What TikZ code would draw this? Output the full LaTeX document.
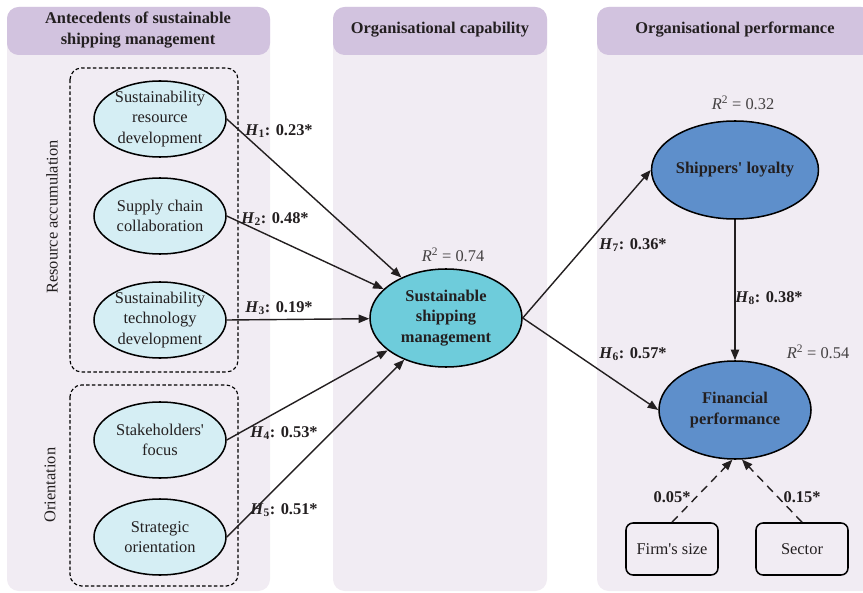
\documentclass[tikz,border=0pt]{standalone}
\usepackage{fontspec}
\setmainfont{Liberation Serif}
\usetikzlibrary{shapes,arrows.meta,positioning}
\definecolor{headcol}{HTML}{D2C3DF}
\definecolor{panelcol}{HTML}{F1ECF3}
\definecolor{lightcol}{HTML}{D5EEF4}
\definecolor{tealcol}{HTML}{6ECCDB}
\definecolor{bluecol}{HTML}{5E8FCB}
\definecolor{inkcol}{HTML}{231F20}
\tikzset{
	panel/.style={rounded corners=10pt, fill=panelcol},
	header/.style={rounded corners=10pt, fill=headcol},
	headtext/.style={font=\bfseries, align=center, text=inkcol},
	factor/.style={ellipse, draw, fill=lightcol, line width=1.3pt, inner xsep=0pt, inner ysep=-12pt, minimum width=3.96cm, minimum height=2.28cm, align=center, text=inkcol},
	core/.style={factor, fill=tealcol, minimum width=4.56cm, minimum height=2.94cm, font=\bfseries},
	outcome/.style={core, fill=bluecol},
	ctrl/.style={draw, rounded corners=6pt, line width=1.3pt, minimum width=2.76cm, minimum height=1.56cm, text=inkcol},
	group/.style={rounded corners=10pt, densely dashed, line width=1pt},
	hlabel/.style={font=\bfseries, text=inkcol},
	rlabel/.style={text=inkcol!85},
	diredge/.style={->,>={Triangle[width=7pt,length=9pt]}, line width=1.2pt, color=inkcol},
	ctrledge/.style={diredge, dash pattern=on 7pt off 5pt}
}

\begin{document}
\begin{tikzpicture}[line width=1pt, x=.03cm, y=-.03cm]
\fontsize{14pt}{17.5pt}\selectfont
\useasboundingbox (0,0) rectangle (863,593);

% panels
\fill[panel] (7,7) rectangle (270,591);
\fill[header] (7,7) rectangle (270,55);
\fill[panel] (333,7) rectangle (547,591);
\fill[header] (333,7) rectangle (547,55);
\fill[panel] (597,7) rectangle (873,591);
\fill[header] (597,7) rectangle (873,55);

\node[headtext] (T1) at (138,30) {Antecedents of sustainable\\shipping management};
\node[headtext] (T2) at (440,30) {Organisational capability};
\node[headtext] (T3) at (735,30) {Organisational performance};

\draw[group] (70,68) rectangle (238,372);
\draw[group] (70,385) rectangle (238,586);
\node[rotate=90, text=inkcol] (RA) at (52,217) {Resource accumulation};
\node[rotate=90, text=inkcol] (OR) at (50,485) {Orientation};

    \node[factor] (A1) at (160,119) {Sustainability\\resource\\development};
    \node[factor] (A2) at (160,216) {Supply chain\\collaboration};
    \node[factor] (A3) at (160,320) {Sustainability\\technology\\development};
    \node[factor] (A4) at (160,440) {Stakeholders\textquotesingle\\focus};
    \node[factor] (A5) at (160,537) {Strategic\\orientation};

    \node[core] (SSM) at (446,318) {Sustainable\\shipping\\management};
    \node[outcome] (SL) at (735,170) {Shippers\textquotesingle{} loyalty};
    \node[outcome] (FP) at (735,410) {Financial\\performance};

    \node[ctrl] (FS) at (672,549) {Firm\textquotesingle{}s size};
    \node[ctrl] (SE) at (802,549) {Sector};

    \draw[diredge] (A1.east) -- (SSM);
    \draw[diredge] (A2.east) -- (SSM);
    \draw[diredge] (A3.east) -- (SSM);
    \draw[diredge] (A4.east) -- (SSM);
    \draw[diredge] (A5.east) -- (SSM);
    \draw[diredge] (SSM.east) -- (SL.west);
    \draw[diredge] (SSM.east) -- (FP.west);
    \draw[diredge] (SL) -- (FP);
    \draw[ctrledge] (FS.north) -- (FP.-93);
    \draw[ctrledge] (SE.north) -- (FP.-82);

    \node[hlabel] (H1) at (279,131) {\textit{H}\textsubscript{1}: 0.23*};
    \node[hlabel] (H2) at (275,219) {\textit{H}\textsubscript{2}: 0.48*};
    \node[hlabel] (H3) at (279,308) {\textit{H}\textsubscript{3}: 0.19*};
    \node[hlabel] (H4) at (284,433) {\textit{H}\textsubscript{4}: 0.53*};
    \node[hlabel] (H5) at (284,510) {\textit{H}\textsubscript{5}: 0.51*};
    \node[hlabel] (H6) at (633,354) {\textit{H}\textsubscript{6}: 0.57*};
    \node[hlabel] (H7) at (633,245) {\textit{H}\textsubscript{7}: 0.36*};
    \node[hlabel] (H8) at (769,298) {\textit{H}\textsubscript{8}: 0.38*};
    \node[hlabel] (C1) at (672,497) {0.05*};
    \node[hlabel] (C2) at (802,497) {0.15*};

    \node[rlabel] (R1) at (453,255) {\textit{R}\textsuperscript{2} = 0.74};
    \node[rlabel] (R2) at (743,103) {\textit{R}\textsuperscript{2} = 0.32};
    \node[rlabel] (R3) at (818,352) {\textit{R}\textsuperscript{2} = 0.54};
\end{tikzpicture}
\end{document}
